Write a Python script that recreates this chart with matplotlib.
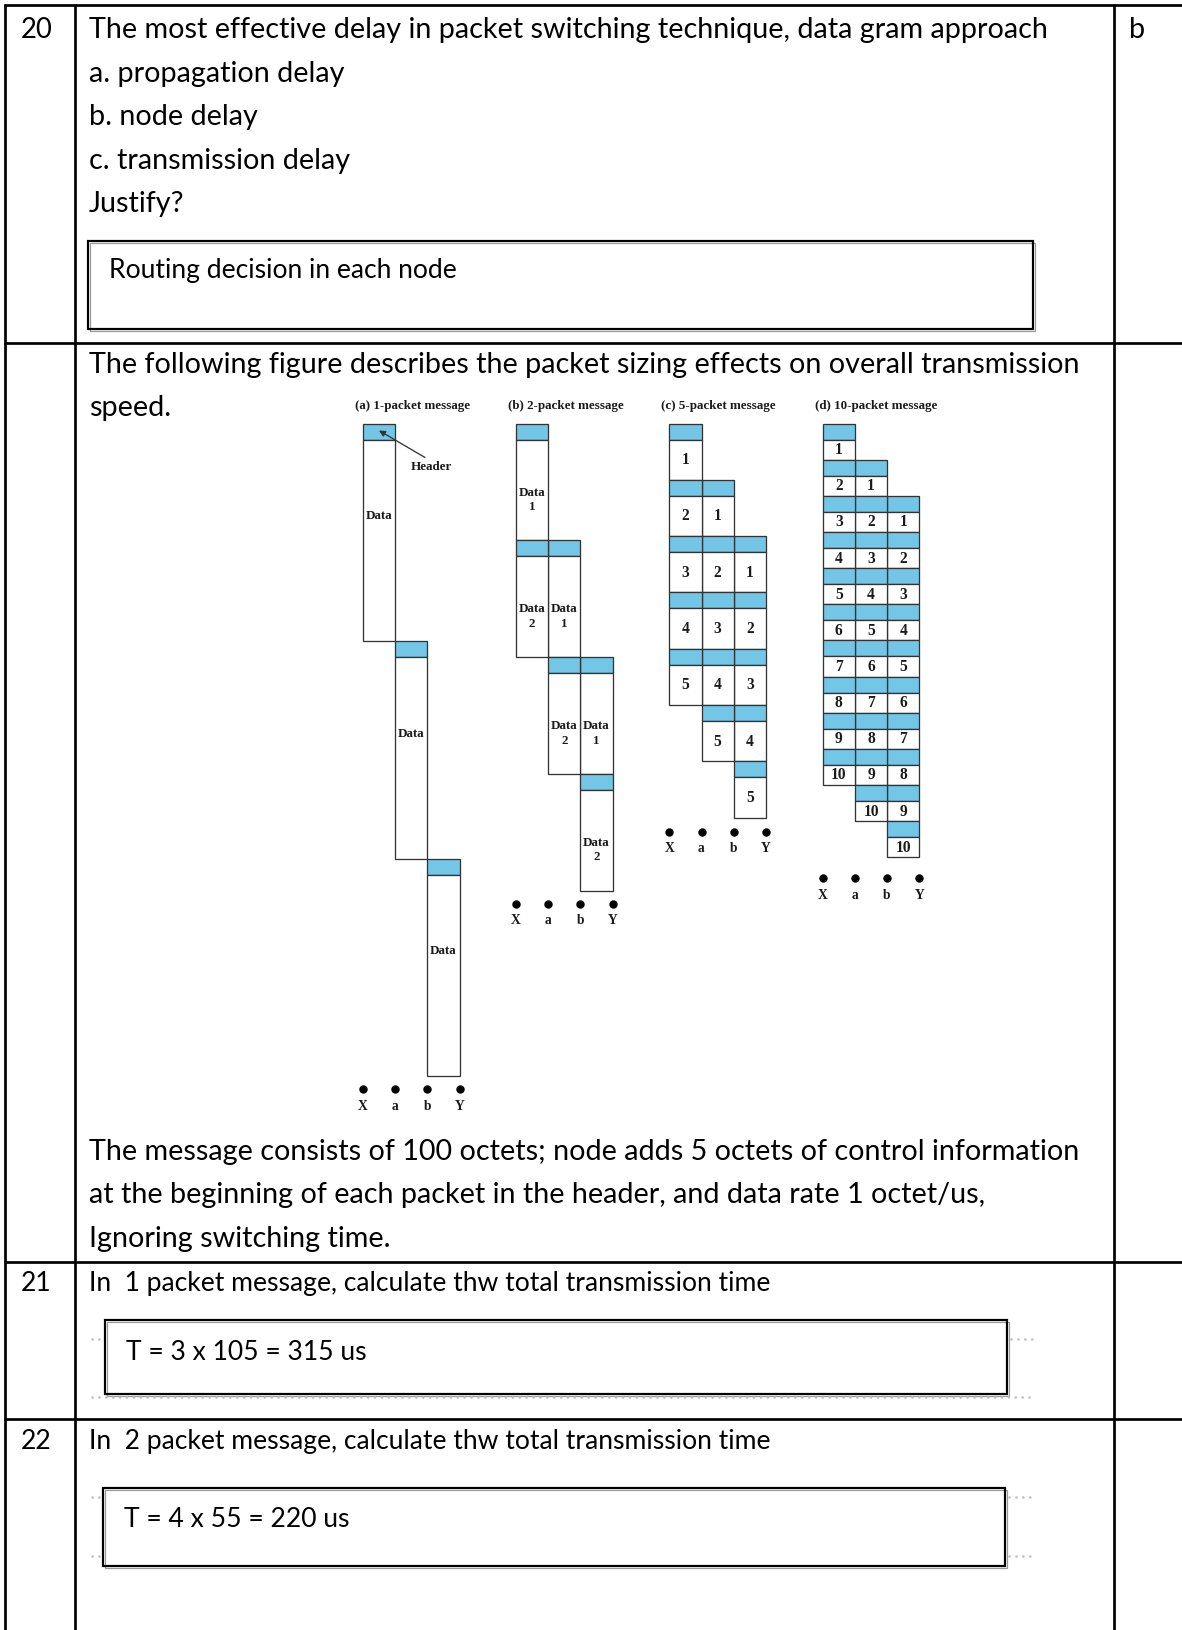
import matplotlib
matplotlib.use("Agg")
import matplotlib.pyplot as plt
from matplotlib.patches import Rectangle

# ---------------- data ----------------
row_numbers = ["20", "", "21", "22"]
q20_lines = ["The most effective delay in packet switching technique, data gram approach",
             "a. propagation delay", "b. node delay", "c. transmission delay", "Justify?"]
q20_answer_key = "b"
q20_box_text = "Routing decision in each node"
fig_intro = ["The following figure describes the packet sizing effects on overall transmission",
             "speed."]
fig_after = ["The message consists of 100 octets; node adds 5 octets of control information",
             "at the beginning of each packet in the header, and data rate 1 octet/us,",
             "Ignoring switching time."]
q21_text = "In  1 packet message, calculate thw total transmission time"
q21_answer = "T = 3 x 105 = 315 us"
q22_text = "In  2 packet message, calculate thw total transmission time"
q22_answer = "T = 4 x 55 = 220 us"

panel_titles = ["(a) 1-packet message", "(b) 2-packet message",
                "(c) 5-packet message", "(d) 10-packet message"]
packet_counts = [1, 2, 5, 10]
nodes = ["X", "a", "b", "Y"]
header_label = "Header"

# ---------------- layout ----------------
W, H = 1182, 1630
fig = plt.figure(figsize=(W / 100, H / 100), dpi=100)
ax = fig.add_axes([0, 0, 1, 1])
ax.set_xlim(0, W)
ax.set_ylim(H, 0)
ax.axis("off")
PT = 0.72  # points per pixel

MAIN = ["Lato", "DejaVu Sans"]
SERIF = ["Liberation Serif", "DejaVu Serif"]

renderer = fig.canvas.get_renderer()


def fit_size(text, family, target_px, base=16):
    t = ax.text(0, 0, text, fontsize=base, family=family)
    w = t.get_window_extent(renderer).width
    t.remove()
    return base * target_px / w


fs = fit_size(q20_lines[0], MAIN, 962)
fs2 = fs * 0.922

# table grid
tlw = 2.7 * PT
for y in [5, 343, 1262, 1419]:
    ax.plot([4, W], [y, y], color="black", lw=tlw, solid_capstyle="butt")
for x in [5, 75, 1114]:
    ax.plot([x, x], [4, H], color="black", lw=tlw, solid_capstyle="butt")

TX = 89


def line(x, y, s, size=fs):
    ax.text(x, y, s, fontsize=size, family=MAIN, va="baseline", ha="left", color="black")


# row 20
line(21, 38, row_numbers[0], fs * 0.96)
for i, s in enumerate(q20_lines):
    line(TX, 38 + i * 43.6, s)
line(1129, 38, q20_answer_key)


def answer_box(x0, y0, x1, y1):
    ax.add_patch(Rectangle((x0 + 1.5, y0 + 1.5), x1 - x0, y1 - y0, fill=False,
                           edgecolor="#9a9a9a", lw=1.2 * PT))
    ax.add_patch(Rectangle((x0, y0), x1 - x0, y1 - y0, fill=False,
                           edgecolor="black", lw=2.2 * PT, zorder=3))


answer_box(88, 241, 1033, 329)
line(109, 278, q20_box_text, fs2)

# figure row text
line(TX, 373, fig_intro[0])
line(TX, 416, fig_intro[1])
for i, s in enumerate(fig_after):
    line(TX, 1160 + i * 43.3, s)

# packet diagrams
col_w = 32.2
hdr_h = 16
data_total = 201.5
top = 423.5
panel_left = [363, 516, 669.3, 822.7]
dot_gap = [13, 13, 14, 21]
blue = "#73C6E6"
edge = "#333333"
elw = 1.3 * PT
fs_title = 13 * PT
fs_small = 13 * PT
fs_num = 15.5 * PT
ink = "#1a1a1a"

for p, (title, n) in enumerate(zip(panel_titles, packet_counts)):
    x0 = panel_left[p]
    ax.text(x0 - 8, 406, title, fontsize=fs_title, family=SERIF, weight="bold",
            ha="left", va="center", color=ink)
    dh = data_total / n
    slot = hdr_h + dh
    for k in range(n):
        for h in range(len(nodes) - 1):
            xs = x0 + h * col_w
            ys = top + (k + h) * slot
            ax.add_patch(Rectangle((xs, ys), col_w, hdr_h, facecolor=blue,
                                   edgecolor=edge, lw=elw))
            ax.add_patch(Rectangle((xs, ys + hdr_h), col_w, dh, facecolor="white",
                                   edgecolor=edge, lw=elw))
            cx = xs + col_w / 2
            if n == 1:
                ax.text(cx, ys + hdr_h + 0.38 * dh, "Data", fontsize=fs_small,
                        family=SERIF, weight="bold", ha="center", va="center", color=ink)
            elif n == 2:
                ax.text(cx, ys + hdr_h + 0.5 * dh + 10, "Data\n%d" % (k + 1),
                        fontsize=fs_small, family=SERIF, weight="bold", ha="center",
                        va="center", linespacing=1.25, color=ink)
            else:
                ax.text(cx, ys + hdr_h + 0.5 * dh + 0.5, "%d" % (k + 1), fontsize=fs_num,
                        family=SERIF, weight="bold", ha="center", va="center", color=ink)
    bottom = top + (n + len(nodes) - 2) * slot
    for j, nd in enumerate(nodes):
        xd = x0 + j * col_w
        ax.plot([xd], [bottom + dot_gap[p]], "o", color="black", ms=7 * PT)
        ax.text(xd, bottom + dot_gap[p] + 17, nd, fontsize=13.5 * PT, family=SERIF,
                weight="bold", ha="center", va="center", color=ink)
    if n == 1:
        ax.annotate("", xy=(x0 + 16, top + 7), xytext=(x0 + 62, top + 34),
                    arrowprops=dict(arrowstyle="-|>", color="#333333", lw=1.3 * PT,
                                    mutation_scale=9, shrinkA=0, shrinkB=0))
        ax.text(x0 + 48, top + 44, header_label, fontsize=fs_small, family=SERIF,
                weight="bold", ha="left", va="center", color=ink)

# row 21
line(21, 1291, row_numbers[2], fs2)
line(TX, 1291, q21_text, fs2)


def dotted(x0, x1, y):
    ax.plot([x0, x1], [y, y], color="#bdbdbd", lw=2.6 * PT, dashes=(0.05, 2.6),
            dash_capstyle="round")


dotted(92, 101, 1339)
dotted(1011, 1032, 1339)
dotted(92, 1032, 1397)
answer_box(105, 1320, 1007, 1394)
line(126, 1360, q21_answer, fs2)

# row 22
line(21, 1449, row_numbers[3], fs2)
line(TX, 1449, q22_text, fs2)
dotted(92, 99, 1497)
dotted(1009, 1032, 1497)
dotted(92, 99, 1556)
dotted(1009, 1032, 1556)
answer_box(103, 1488, 1005, 1566)
line(124, 1527, q22_answer, fs2)

fig.savefig("out.png", dpi=100)
